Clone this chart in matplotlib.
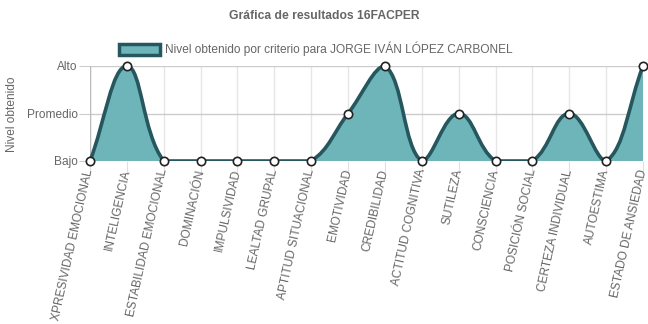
import numpy as np
import matplotlib.pyplot as plt
import matplotlib.transforms as mtransforms
from matplotlib.path import Path
from matplotlib.patches import PathPatch, Rectangle

plt.rcParams['font.family'] = ['Liberation Sans', 'DejaVu Sans']

# Data
criterios = [
    'XPRESIVIDAD EMOCIONAL', 'INTELIGENCIA', 'ESTABILIDAD EMOCIONAL',
    'DOMINACIÓN', 'IMPULSIVIDAD', 'LEALTAD GRUPAL', 'APTITUD SITUACIONAL',
    'EMOTIVIDAD', 'CREDIBILIDAD', 'ACTITUD COGNITIVA', 'SUTILEZA',
    'CONSCIENCIA', 'POSICIÓN SOCIAL', 'CERTEZA INDIVIDUAL', 'AUTOESTIMA',
    'ESTADO DE ANSIEDAD'
]
niveles = [0, 2, 0, 0, 0, 0, 0, 1, 2, 0, 1, 0, 0, 1, 0, 2]
nivel_labels = ['Bajo', 'Promedio', 'Alto']

fill_color = '#6db5b8'
line_color = '#26575e'
grey = '#666666'

W, H = 648, 324
fig = plt.figure(figsize=(W / 100, H / 100), dpi=100)
# plot area in pixels: x 90..643, y 66..161
ax = fig.add_axes([90 / W, 1 - 161 / H, 553 / W, 95 / H])
x = np.arange(len(criterios))
ax.set_xlim(0, len(criterios) - 1)
ax.set_ylim(0, 2)


def spline_path(px, py, t=0.4, ymin=None, ymax=None):
    # bezier control points like Chart.js (pixel space)
    n = len(px)
    verts = [(px[0], py[0])]
    codes = [Path.MOVETO]
    cps = []
    for i in range(n):
        p = np.array([px[max(i - 1, 0)], py[max(i - 1, 0)]])
        c = np.array([px[i], py[i]])
        nx = np.array([px[min(i + 1, n - 1)], py[min(i + 1, n - 1)]])
        d01 = np.hypot(*(c - p))
        d12 = np.hypot(*(nx - c))
        tot = d01 + d12
        s01 = d01 / tot if tot else 0
        s12 = d12 / tot if tot else 0
        prev_cp = c - t * s01 * (nx - p)
        next_cp = c + t * s12 * (nx - p)
        prev_cp[1] = np.clip(prev_cp[1], ymin, ymax)
        next_cp[1] = np.clip(next_cp[1], ymin, ymax)
        cps.append((prev_cp, next_cp))
    for i in range(1, n):
        verts += [tuple(cps[i - 1][1]), tuple(cps[i][0]), (px[i], py[i])]
        codes += [Path.CURVE4] * 3
    return verts, codes


sx = 553 / (len(criterios) - 1)
sy = 95 / 2
px = x * sx
py = np.array(niveles) * sy
verts, codes = spline_path(px, py, ymin=0, ymax=2 * sy)
verts = [(vx / sx, vy / sy) for vx, vy in verts]

fill_verts = verts + [(x[-1], 0), (x[0], 0), verts[0]]
fill_codes = codes + [Path.LINETO, Path.LINETO, Path.CLOSEPOLY]
ax.add_patch(PathPatch(Path(fill_verts, fill_codes), facecolor=fill_color,
                       edgecolor='none', zorder=2))
line = PathPatch(Path(verts, codes), facecolor='none',
                 edgecolor=line_color, lw=2.6, zorder=3)
ax.add_patch(line)
clip = Rectangle((-0.02, 0), 1.04, 1.03, transform=ax.transAxes,
                 facecolor='none', edgecolor='none')
line.set_clip_path(clip)
ax.plot(x, niveles, 'o', ms=6, mfc='white', mec='#222222', mew=1.2,
        zorder=4, clip_on=False)

ax.set_xticks(x)
ax.set_xticklabels(criterios, rotation=77.5, ha='right', va='center',
                   rotation_mode='anchor', fontsize=8.6, color=grey)
shift = mtransforms.ScaledTranslation(3 / 100, 0, fig.dpi_scale_trans)
for lbl in ax.get_xticklabels():
    lbl.set_transform(lbl.get_transform() + shift)
ax.set_yticks([0, 1, 2])
ax.set_yticklabels(nivel_labels, fontsize=8.6, color=grey)
ax.tick_params(axis='x', length=9, color='#e0e0e0', pad=-3)
ax.tick_params(axis='y', length=8, color='#cccccc', pad=1)
ax.grid(axis='x', color='#e6e6e6', lw=1)
ax.grid(axis='y', color='#cccccc', lw=1)
ax.set_axisbelow(True)
for s in ax.spines.values():
    s.set_visible(False)
ax.axvline(0, color='#bbbbbb', lw=1, zorder=1)
ax.axhline(0, color='#bbbbbb', lw=1, zorder=1)

fig.text(12 / W, 1 - 114 / H, 'Nivel obtenido', rotation=90, ha='center',
         va='center', fontsize=8.6, color=grey)

fig.text(324 / W, 1 - 16 / H, 'Gráfica de resultados 16FACPER', ha='center',
         va='center', fontsize=8.7, fontweight='bold', color=grey)

fig.patches.append(Rectangle((119 / W, 1 - 55 / H), 41 / W, 11 / H,
                             transform=fig.transFigure, facecolor=fill_color,
                             edgecolor=line_color, lw=2.5))
fig.text(165 / W, 1 - 49 / H,
         'Nivel obtenido por criterio para JORGE IVÁN LÓPEZ CARBONEL',
         ha='left', va='center', fontsize=8.6, color=grey)

fig.savefig('out.png', dpi=100)
